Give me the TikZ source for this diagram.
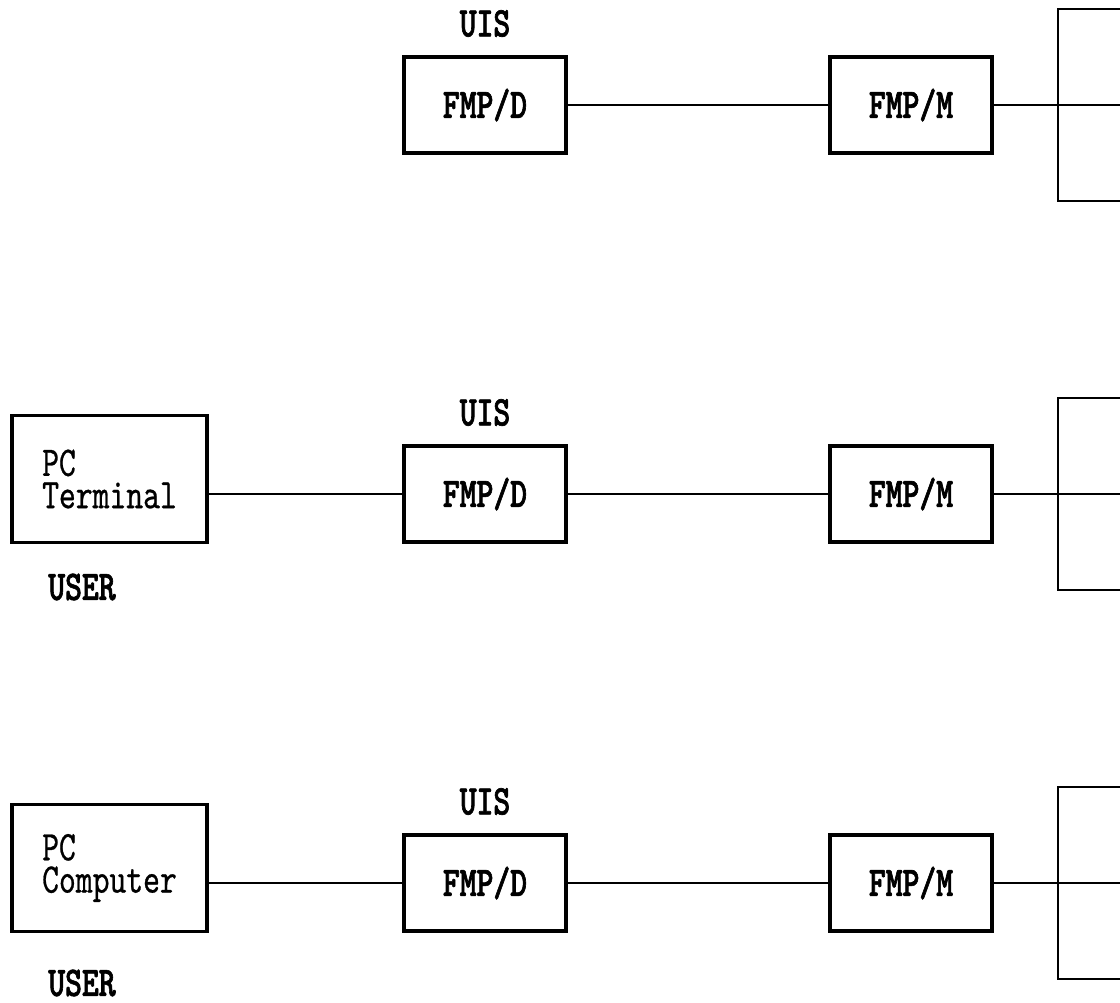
\documentclass[tikz,border=0pt]{standalone}
\usepackage{fontspec}
\newfontfamily\monofuente{lmmono10-regular.otf}[BoldFont=lmmonolt10-bold.otf,
	UprightFeatures={FakeBold=0.6}, BoldFeatures={FakeBold=1.5}, FakeStretch=0.76]
\usetikzlibrary{positioning}

\begin{document}
\begin{tikzpicture}[x=0.025cm, y=-0.025cm,
	modulo/.style={draw, line width=2.6pt, minimum width=4.05cm, minimum height=2.4cm,
		font=\monofuente\bfseries\fontsize{30}{21}\selectfont},
	puesto/.style={draw, line width=2.6pt, minimum width=4.875cm, minimum height=3.175cm,
		align=left, font=\monofuente\fontsize{30}{23}\selectfont},
	anfitrion/.style={draw, line width=1pt, minimum width=2.5cm, minimum height=4.8cm},
	rotulo/.style={inner sep=0pt, font=\monofuente\bfseries\fontsize{30}{21}\selectfont},
	enlace/.style={line width=1pt}]
	\useasboundingbox (0,0) rectangle (1120,1002);
	\clip (0,0) rectangle (1120,1002);
	% cadena UIS -> FMP/D -> FMP/M -> host, una fila por caso
	\foreach \i/\y in {1/105, 2/494, 3/883}{
		\node[modulo] (fmpd\i) at (485,\y) {FMP/D};
		\node[rotulo, above=0.45cm of fmpd\i] (uis\i) {UIS};
		\node[modulo] (fmpm\i) at (911,\y) {FMP/M};
		\node[anfitrion] (host\i) at (1108,\y) {};
		\coordinate (fin\i) at (1120,\y);
		\draw[enlace] (fmpd\i) -- (fmpm\i);
		\draw[enlace] (fmpm\i) -- (fin\i);
	}
	% puestos de usuario a la izquierda
	\foreach \i/\y/\nombre/\uy in {2/479/Terminal/587, 3/868/Computer/983}{
		\node[puesto] (pc\i) at (109.5,\y) {PC\\\nombre};
		\node[rotulo] (user\i) at (82,\uy) {USER};
		\draw[enlace] (pc\i.east |- fmpd\i.west) -- (fmpd\i.west);
	}
\end{tikzpicture}
\end{document}
